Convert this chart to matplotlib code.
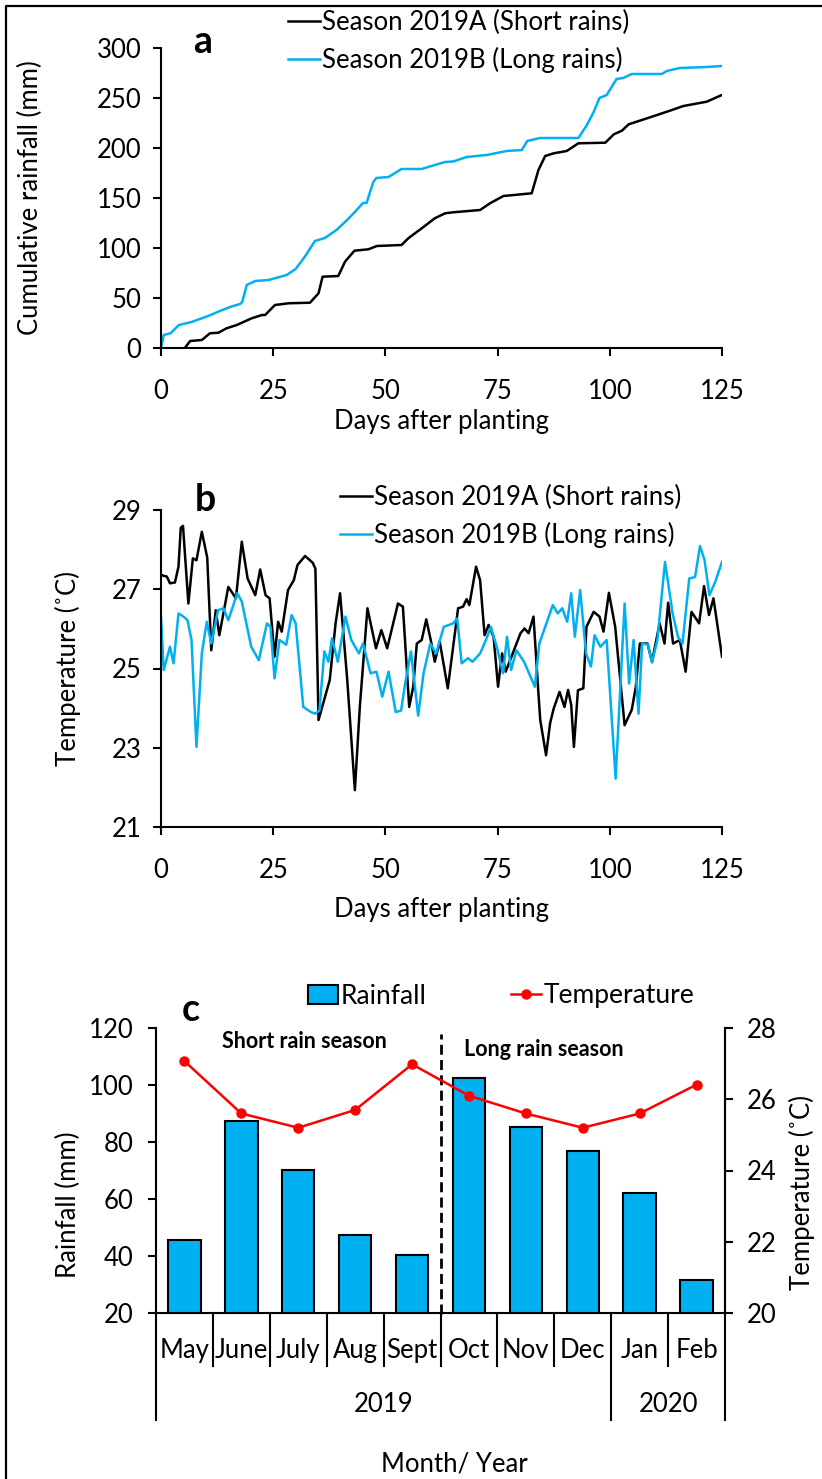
import matplotlib.pyplot as plt
from matplotlib.lines import Line2D

plt.rcParams['font.family'] = ['Lato', 'DejaVu Sans']

BLUE = '#00B0F0'

# (a) cumulative rainfall, season 2019A (day, mm)
cum_days_A = [5.3, 6.5, 9.1, 10.9, 12.8, 14.6, 16.9, 20.2, 22.5, 23.2, 25.4, 28.4, 33.2, 35.1,
              36.0, 39.5, 41.0, 43.1, 46.2, 48.1, 53.6, 55.1, 58.1, 61.0, 63.3, 65.1, 71.1, 73.3,
              76.3, 82.6, 84.1, 85.6, 87.5, 90.4, 93.0, 99.0, 100.9, 102.7, 104.2, 108.3, 113.4,
              116.4, 121.6, 124.2, 125.0]
cum_rain_A = [0, 7, 8, 14.7, 15.3, 19.7, 23, 29.7, 33, 33, 43, 44.7, 45.3, 54.7,
              71.3, 72, 86.3, 97.3, 98.7, 102, 103, 109.7, 119.7, 129.7, 134.7, 135.7, 138, 144.7,
              152, 154.7, 178, 192, 194.7, 197, 204.7, 205.3, 213.7, 217.3, 223.7, 229.7, 237.3,
              242, 246.3, 251.5, 253]

# (a) cumulative rainfall, season 2019B
cum_days_B = [0, 0.6, 2.1, 4.0, 6.8, 10.5, 13.1, 15.4, 17.6, 18.1, 19.1, 21.0, 24.0, 28.0, 30.0,
              32.0, 34.3, 36.5, 39.1, 41.7, 43.6, 45.0, 45.8, 47.3, 48.0, 50.7, 53.6, 58.1, 61.0,
              63.3, 65.1, 68.1, 72.6, 77.0, 80.4, 81.6, 84.4, 93.0, 94.9, 96.4, 97.7, 99.3, 101.5,
              103.0, 104.9, 111.6, 112.7, 115.6, 121.6, 125.0]
cum_rain_B = [0, 13, 14.7, 23, 26, 32, 37, 41, 44, 46, 63, 67, 68, 73, 79,
              91, 107, 110, 118, 129, 138, 145, 145, 166, 170, 171, 179, 179, 183,
              186, 186.5, 191, 193, 197, 198, 207, 210, 210, 223, 236, 250, 253, 269,
              270, 274, 274, 277, 280, 281, 282]

# (b) mean daily temperature, season 2019A
temp_days_A = [0, 1.3, 2.0, 3.1, 3.9, 4.4, 4.9, 6.1, 7.1, 7.9, 9.1, 10.3, 11.2, 12.2, 13.0, 15.0,
               16.7, 18.0, 19.3, 21.0, 22.1, 23.3, 24.2, 25.3, 26.1, 26.9, 28.3, 29.6, 30.4, 32.1,
               33.8, 34.4, 35.1, 37.6, 38.9, 39.9, 41.5, 43.2, 44.3, 46.0, 47.9, 49.1, 50.4, 52.8,
               53.9, 55.3, 56.2, 57.0, 58.1, 59.1, 60.1, 61.0, 62.1, 63.9, 66.2, 67.3, 68.1, 68.7,
               70.2, 71.1, 72.1, 73.0, 74.1, 75.1, 76.0, 76.8, 78.1, 80.1, 81.0, 81.9, 83.0, 83.9,
               84.5, 85.8, 86.7, 87.5, 88.8, 89.9, 90.7, 91.4, 92.0, 92.9, 94.1, 94.8, 96.4, 97.7,
               98.6, 99.8, 101.2, 103.3, 104.9, 105.8, 106.7, 108.4, 109.4, 111.1, 112.2, 113.0,
               114.1, 115.6, 116.9, 118.2, 119.9, 121.0, 122.1, 123.1, 125.0]
temp_A = [27.36, 27.32, 27.15, 27.17, 27.57, 28.55, 28.6, 26.64, 27.78, 27.73, 28.45, 27.8, 25.46,
          26.47, 25.84, 27.06, 26.77, 28.2, 27.27, 26.85, 27.5, 26.85, 26.77, 25.3, 26.18, 25.93,
          26.98, 27.23, 27.61, 27.84, 27.67, 27.52, 23.7, 24.71, 26.14, 26.9, 24.71, 21.93, 24.03,
          26.52, 25.51, 25.97, 25.51, 26.64, 26.56, 24.03, 24.54, 25.63, 25.72, 26.24, 25.72,
          25.17, 25.68, 24.5, 26.52, 26.56, 26.75, 26.6, 27.57, 27.23, 25.84, 26.1, 25.8, 24.54,
          25.38, 24.92, 25.3, 25.89, 26.01, 25.89, 26.31, 24.71, 23.7, 22.81, 23.62, 23.99, 24.41,
          24.03, 24.46, 24.08, 23.02, 24.45, 24.5, 26.05, 26.43, 26.31, 25.93, 26.91, 26.05, 23.57,
          23.96, 24.54, 25.63, 25.63, 25.17, 26.14, 25.63, 26.66, 25.63, 25.72, 24.92, 26.43,
          26.14, 27.08, 26.35, 26.77, 25.3]

# (b) mean daily temperature, season 2019B
temp_days_B = [0, 0.6, 2.0, 2.8, 3.9, 5.0, 5.9, 6.8, 7.9, 9.1, 10.2, 11.2, 12.7, 13.9, 15.0, 17.0,
               18.0, 20.1, 21.8, 23.6, 24.4, 25.3, 26.4, 27.9, 29.1, 30.0, 31.7, 33.4, 34.4, 35.3,
               36.4, 37.3, 38.1, 39.4, 41.1, 42.4, 44.1, 45.0, 46.7, 48.0, 49.3, 50.7, 52.3, 53.5,
               54.4, 55.7, 57.3, 58.5, 60.0, 61.3, 63.0, 65.1, 66.0, 67.0, 68.4, 69.4, 71.1, 72.4,
               73.5, 74.8, 76.2, 77.1, 78.0, 79.2, 80.9, 83.3, 84.3, 85.6, 87.3, 88.4, 89.4, 90.5,
               91.4, 92.2, 93.4, 94.7, 95.8, 96.6, 97.9, 99.3, 101.3, 103.3, 104.3, 105.3, 106.4,
               107.2, 108.5, 109.4, 110.6, 112.3, 114.0, 115.2, 116.2, 117.7, 119.0, 120.1, 121.1,
               122.2, 123.5, 125.0]
temp_B = [26.31, 24.96, 25.55, 25.13, 26.39, 26.31, 26.22, 25.72, 23.02, 25.38, 26.18, 25.63,
          26.47, 26.52, 26.22, 26.9, 26.69, 25.55, 25.21, 26.14, 26.05, 24.75, 25.72, 25.6, 26.35,
          26.14, 24.03, 23.9, 23.86, 23.94, 25.43, 25.17, 25.76, 25.17, 26.31, 25.72, 25.38, 25.63,
          24.88, 24.92, 24.29, 24.92, 23.9, 23.94, 24.62, 25.43, 23.81, 24.88, 25.63, 25.38, 26.05,
          26.14, 26.26, 25.13, 25.26, 25.17, 25.38, 25.72, 26.05, 25.55, 24.88, 25.8, 24.96, 25.46,
          25.17, 24.54, 25.63, 26.05, 26.6, 26.39, 26.52, 26.18, 26.9, 25.8, 26.98, 25.38, 25.05,
          25.84, 25.55, 25.72, 22.22, 26.64, 24.62, 25.72, 23.86, 25.63, 25.6, 25.15, 25.72, 27.69,
          26.39, 25.8, 25.63, 27.27, 27.31, 28.09, 27.74, 26.85, 27.19, 27.69]

# (c) monthly totals
months = ['May', 'June', 'July', 'Aug', 'Sept', 'Oct', 'Nov', 'Dec', 'Jan', 'Feb']
years = [('2019', 0, 7), ('2020', 8, 9)]
monthly_rain = [45.5, 87.3, 70.2, 47.5, 40.4, 102.3, 85.3, 76.8, 62.2, 31.6]
monthly_temp = [27.07, 25.6, 25.2, 25.7, 26.98, 26.1, 25.6, 25.2, 25.6, 26.41]

FS = 18.5  # general text size

W, H = 822, 1479
fig = plt.figure(figsize=(W / 100, H / 100), dpi=100)


def box(left, top, right, bottom):
    return [left / W, 1 - bottom / H, (right - left) / W, (bottom - top) / H]


def style(ax):
    for s in ['top', 'right']:
        ax.spines[s].set_visible(False)
    for s in ['left', 'bottom']:
        ax.spines[s].set_linewidth(1.5)
    ax.tick_params(direction='out', length=6, width=1.5, labelsize=FS, pad=8)


# figure frame (left and top edges)
fig.add_artist(Line2D([6 / W, 6 / W, 1], [0, 1 - 6 / H, 1 - 6 / H],
                      transform=fig.transFigure, color='black', lw=1.6))

legend_kw = dict(frameon=False, fontsize=FS, handlelength=1.25, handletextpad=0.08,
                 borderpad=0, borderaxespad=0, labelspacing=0.45, loc='upper left',
                 bbox_transform=fig.transFigure)

# ---- a ----
ax1 = fig.add_axes(box(161, 48, 722, 348))
ax1.plot(cum_days_A, cum_rain_A, color='black', lw=1.8, label='Season 2019A (Short rains)')
ax1.plot(cum_days_B, cum_rain_B, color=BLUE, lw=1.8, label='Season 2019B (Long rains)')
ax1.set_xlim(0, 125)
ax1.set_ylim(0, 300)
ax1.set_xticks(range(0, 126, 25))
ax1.set_yticks(range(0, 301, 50))
style(ax1)
ax1.tick_params(axis='x', pad=16)
ax1.legend(bbox_to_anchor=(288 / W, 1 - 10 / H), **legend_kw)
fig.text(30 / W, 1 - 198 / H, 'Cumulative rainfall (mm)', rotation=90, ha='center', va='center', fontsize=FS)
fig.text(442 / W, 1 - 421 / H, 'Days after planting', ha='center', va='center', fontsize=FS)
fig.text(203 / W, 1 - 42 / H, 'a', ha='center', va='center', fontsize=27, fontweight='bold')

# ---- b ----
ax2 = fig.add_axes(box(161, 510, 722, 827))
ax2.plot(temp_days_A, temp_A, color='black', lw=1.8, label='Season 2019A (Short rains)')
ax2.plot(temp_days_B, temp_B, color=BLUE, lw=1.8, label='Season 2019B (Long rains)')
ax2.set_xlim(0, 125)
ax2.set_ylim(21, 29)
ax2.set_xticks(range(0, 126, 25))
ax2.set_yticks(range(21, 30, 2))
style(ax2)
ax2.tick_params(axis='x', pad=16)
ax2.legend(bbox_to_anchor=(340 / W, 1 - 485 / H), **legend_kw)
fig.text(68 / W, 1 - 668 / H, 'Temperature (˚C)', rotation=90, ha='center', va='center', fontsize=FS)
fig.text(442 / W, 1 - 909 / H, 'Days after planting', ha='center', va='center', fontsize=FS)
fig.text(205 / W, 1 - 500 / H, 'b', ha='center', va='center', fontsize=27, fontweight='bold')

# ---- c ----
x = list(range(len(months)))
ax3 = fig.add_axes(box(156, 1028, 725, 1313))
bars = ax3.bar(x, monthly_rain, width=0.57, color=BLUE, edgecolor='black', linewidth=1.5, zorder=2)
ax3.set_xlim(-0.5, len(months) - 0.5)
ax3.set_ylim(20, 120)
ax3.set_yticks(range(20, 121, 20))
ax3.set_xticks([])
style(ax3)
ax3.tick_params(axis='y', pad=10)
ax3.spines['right'].set_visible(True)
ax3.spines['right'].set_linewidth(1.5)

ax4 = ax3.twinx()
temp_line, = ax4.plot(x, monthly_temp, color='red', lw=1.8, marker='o', ms=6.5)
ax4.set_ylim(20, 28)
ax4.set_yticks(range(20, 29, 2))
for s in ['top', 'left', 'bottom']:
    ax4.spines[s].set_visible(False)
ax4.spines['right'].set_linewidth(1.5)
ax4.tick_params(direction='out', length=6, width=1.5, labelsize=FS, pad=10)

# season divider
ax3.plot([4.5, 4.5], [19.5, 118], color='black', lw=2, ls=(0, (3.6, 1.9)), clip_on=False, zorder=3)
ax3.text(2.1, 115.4, 'Short rain season', ha='center', va='center', fontsize=15.5, fontweight='bold')
ax3.text(6.32, 112.3, 'Long rain season', ha='center', va='center', fontsize=15.5, fontweight='bold')

# two-level category axis
xt = ax3.get_xaxis_transform()
year_edges = {-0.5, 7.5, 9.5}
for k in range(len(months) + 1):
    edge = k - 0.5
    low = -0.375 if edge in year_edges else -0.186
    ax3.plot([edge, edge], [0, low], transform=xt, color='black', lw=1.5, clip_on=False)
for i, m in enumerate(months):
    ax3.text(i, -0.13, m, transform=xt, ha='center', va='center', fontsize=FS)
for label, first, last in years:
    ax3.text((first + last) / 2, -0.32, label, transform=xt, ha='center', va='center', fontsize=FS)

fig.text(68 / W, 1 - 1205 / H, 'Rainfall (mm)', rotation=90, ha='center', va='center', fontsize=FS)
fig.text(802 / W, 1 - 1193 / H, 'Temperature (˚C)', rotation=90, ha='center', va='center', fontsize=FS)
fig.text(454 / W, 1 - 1464 / H, 'Month/ Year', ha='center', va='center', fontsize=FS)
fig.text(191 / W, 1 - 1010 / H, 'c', ha='center', va='center', fontsize=27, fontweight='bold')

fig.legend([bars, temp_line], ['Rainfall', 'Temperature'], loc='center',
           bbox_to_anchor=(501 / W, 1 - 996 / H), ncol=2, frameon=False, fontsize=19,
           handlelength=1.15, handletextpad=0.08, columnspacing=3.2)

fig.savefig('out.png', dpi=100)
